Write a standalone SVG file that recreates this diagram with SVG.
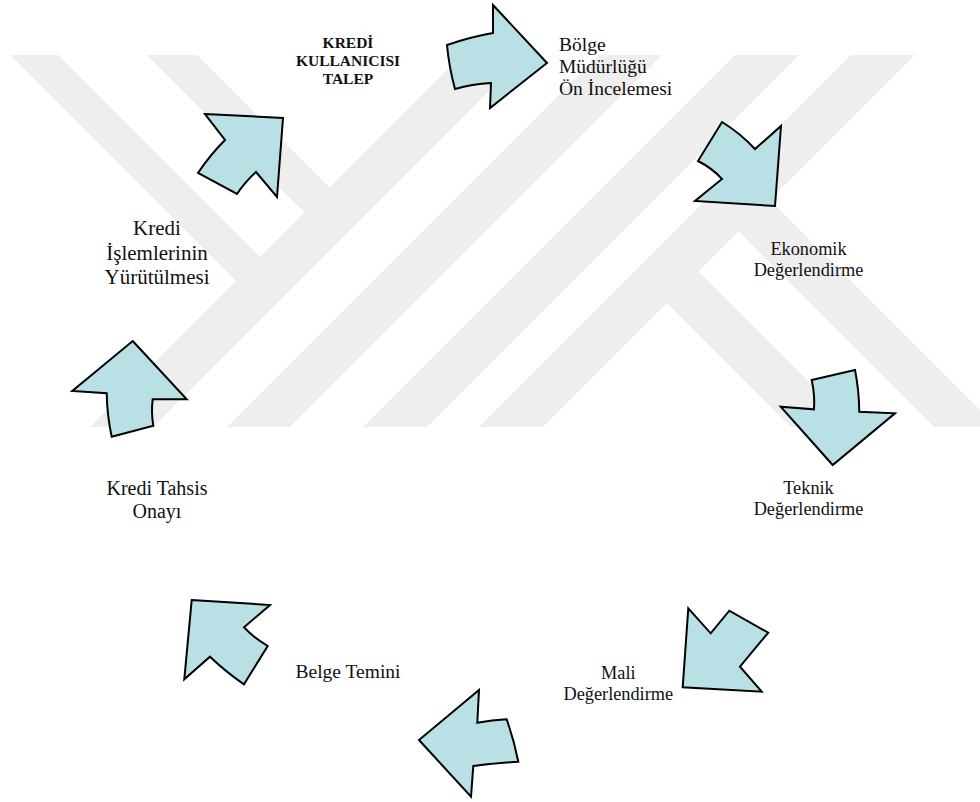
<svg xmlns="http://www.w3.org/2000/svg" width="980" height="802" viewBox="0 0 980 802">
<style>
.wm{fill:#eeeeee}
.arr{fill:#b9e0e4;stroke:#000;stroke-width:2;stroke-linejoin:miter}
.t{font-family:"Liberation Serif","Times New Roman",serif;fill:#111}
.b{font-weight:bold}
</style>
<defs>
<clipPath id="wmclip"><rect x="0" y="55" width="980" height="372"/></clipPath>
</defs>
<rect width="980" height="802" fill="#fff"/>
<g id="watermark" clip-path="url(#wmclip)">
<polygon class="wm" points="10,55 58,55 260,257 236,281"/>
<polygon class="wm" points="147,55 197,55 329.5,187.5 304.5,212.5"/>
<polygon class="wm" points="90,427 153,427 525,55 462,55"/>
<polygon class="wm" points="227,427 290,427 662,55 599,55"/>
<polygon class="wm" points="363,427 427,427 799,55 735,55"/>
<polygon class="wm" points="479,427 543,427 915,55 851,55"/>
<polygon class="wm" points="667,303 698.5,271.5 854,427 791,427"/>
<polygon class="wm" points="738.5,231.5 770,200 997,427 934,427"/>
</g>
<g id="connectors">
<path class="arr" d="M205,114 L283,118 L277,197 L256,172 Q245,182 237,194 L198,173 Q210,155 225,140 Z"/>
<path class="arr" d="M493,5 L547,63 L490,108 L491,83 Q472,84 455,89 Q449,67 447,45 Q470,37 493,33 Z"/>
<path class="arr" d="M722,122 Q740,133 755,149 L781,126 L775,206 L695,201 L722,179 Q712,168 698,161 Z"/>
<path class="arr" d="M811.7,380 L855,370 Q859,390 859.3,411.7 L895,413.3 L832.7,465 L780.7,406.7 L814,409.3 Q815,395 811.7,380 Z"/>
<path class="arr" d="M688.3,608.3 L710.7,633.3 L729.3,610.7 L768.3,632.7 Q752,652 740,666.7 L761.7,691.7 L682.7,687.3 Z"/>
<path class="arr" d="M479,690 L477.3,722.7 Q492,720 506.7,719.3 Q514,740 518.3,761.7 Q496,763 473.3,766 L471,796.7 L419,740 Z"/>
<path class="arr" d="M191.7,600 L270,605 L244,627.3 Q254,638 267.7,646 L244,684.3 Q226,672 210,656.7 L184.3,679.3 Z"/>
<path class="arr" d="M132.7,341 L186.7,399.3 L152.7,399.3 Q151,412 153.3,425.7 L111.7,436.7 Q107,415 106.7,393.3 L72.3,391 Z"/>
</g>
<g id="n-talep">
<text class="t b" font-size="15.5" text-anchor="middle"><tspan x="348" y="47.5">KREDİ</tspan><tspan x="348" y="66">KULLANICISI</tspan><tspan x="348" y="84">TALEP</tspan></text>
</g>
<g id="n-bolge">
<text class="t" font-size="19.5"><tspan x="559" y="50.5">Bölge</tspan><tspan x="559" y="72.5">Müdürlüğü</tspan><tspan x="559" y="94.5">Ön İncelemesi</tspan></text>
</g>
<g id="n-ekonomik">
<text class="t" font-size="18.3" text-anchor="middle"><tspan x="808.5" y="255">Ekonomik</tspan><tspan x="808.5" y="275.5">Değerlendirme</tspan></text>
</g>
<g id="n-teknik">
<text class="t" font-size="18.3" text-anchor="middle"><tspan x="808.5" y="494">Teknik</tspan><tspan x="808.5" y="515">Değerlendirme</tspan></text>
</g>
<g id="n-mali">
<text class="t" font-size="18.3" text-anchor="middle"><tspan x="618.3" y="679.3">Mali</tspan><tspan x="618.3" y="700">Değerlendirme</tspan></text>
</g>
<g id="n-belge">
<text class="t" font-size="19.5" text-anchor="middle" x="348" y="678.3">Belge Temini</text>
</g>
<g id="n-tahsis">
<text class="t" font-size="20" text-anchor="middle"><tspan x="157" y="495">Kredi Tahsis</tspan><tspan x="157" y="518.3">Onayı</tspan></text>
</g>
<g id="n-islemler">
<text class="t" font-size="21" text-anchor="middle"><tspan x="157" y="235">Kredi</tspan><tspan x="157" y="260">İşlemlerinin</tspan><tspan x="157" y="284.3">Yürütülmesi</tspan></text>
</g>
</svg>
